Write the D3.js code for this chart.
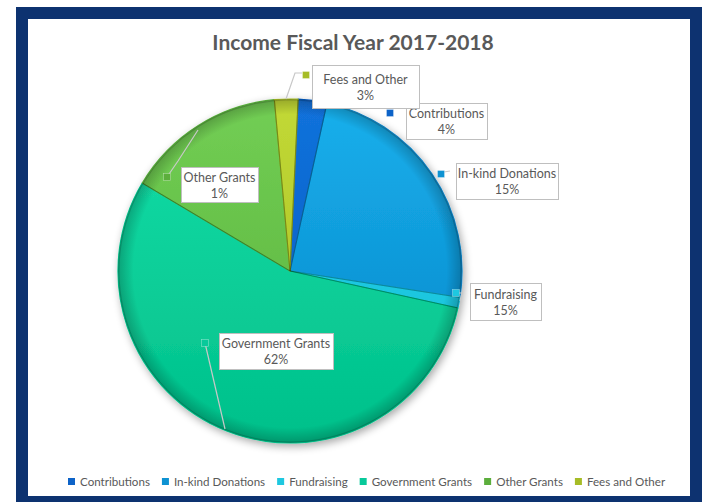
<!DOCTYPE html>
<html>
<head>
<meta charset="utf-8">
<script src="https://cdn.jsdelivr.net/npm/d3@7/dist/d3.min.js"></script>
<style>
  html, body { margin: 0; padding: 0; background: #ffffff; }
  svg { display: block; }
</style>
</head>
<body>
<svg id="chart" width="702" height="502"></svg>
<script>
// ---- data ----
const categories = ["Contributions", "In-kind Donations", "Fundraising", "Government Grants", "Other Grants", "Fees and Other"];
const sliceValues = [2.7, 24.0, 1.0, 55.1, 15.0, 2.2];
const labelPercents = ["4%", "15%", "15%", "62%", "1%", "3%"];
const title = "Income Fiscal Year 2017-2018";

// ---- styles / layout ----
const colorsTop = ["#1272dc", "#16b0ec", "#28d4ec", "#18dea8", "#72ce54", "#c2d936"];
const colorsBot = ["#0658bc", "#0982c6", "#12bcd6", "#00c08a", "#58b03c", "#a4ba20"];
const markerColors = ["#0d63c8", "#0e92d2", "#1ec8e0", "#08c99a", "#5cae3c", "#a6bc26"];
const W = 702, H = 502;
const cx = 290, cy = 271, R = 172;
const startDeg = 2.7;

// label boxes [x0, y0, x1, y1], marker [x,y], leader polyline
const labelBoxes = [
  [406, 103, 487, 139],
  [456, 163, 558, 199],
  [470, 283, 541, 320],
  [219, 333, 333, 369],
  [181, 167, 258, 202],
  [312, 65, 419, 108]
];
const markerPos = [[390, 113], [441, 174], [456, 293], [205, 343], [167, 177], [306, 75]];
const leaders = [
  null,
  [[444, 172], [450, 171]],
  [[459, 293], [462, 293], [460, 301]],
  [[205, 343], [225, 429]],
  [[167, 177], [178, 161], [198, 130]],
  [[302, 73], [295, 73], [286, 99]]
];

const svg = d3.select("#chart");
const defs = svg.append("defs");
const FONT = "Lato, 'Open Sans', sans-serif";

// gradients
categories.forEach((c, i) => {
  const g = defs.append("linearGradient")
    .attr("id", "g" + i)
    .attr("gradientUnits", "userSpaceOnUse")
    .attr("x1", 0).attr("y1", -R).attr("x2", 0).attr("y2", R);
  g.append("stop").attr("offset", "0%").attr("stop-color", colorsTop[i]);
  g.append("stop").attr("offset", "100%").attr("stop-color", colorsBot[i]);
});
// edge darkening overlay
const rg = defs.append("radialGradient").attr("id", "edge")
  .attr("gradientUnits", "userSpaceOnUse")
  .attr("cx", 0).attr("cy", 0).attr("r", R);
rg.append("stop").attr("offset", "0%").attr("stop-color", "#000").attr("stop-opacity", 0);
rg.append("stop").attr("offset", "91%").attr("stop-color", "#000").attr("stop-opacity", 0);
rg.append("stop").attr("offset", "100%").attr("stop-color", "#000").attr("stop-opacity", 0.22);

const shadow = defs.append("filter").attr("id", "shadow")
  .attr("x", "-20%").attr("y", "-20%").attr("width", "140%").attr("height", "140%");
shadow.append("feGaussianBlur").attr("in", "SourceAlpha").attr("stdDeviation", 4).attr("result", "b");
shadow.append("feOffset").attr("in", "b").attr("dx", 2).attr("dy", 3).attr("result", "o");
shadow.append("feComponentTransfer").attr("in", "o").attr("result", "s")
  .append("feFuncA").attr("type", "linear").attr("slope", 0.35);
const fm = shadow.append("feMerge");
fm.append("feMergeNode").attr("in", "s");
fm.append("feMergeNode").attr("in", "SourceGraphic");

// background + frame
svg.append("rect").attr("x", 0).attr("y", 0).attr("width", W).attr("height", H).attr("fill", "#ffffff");
svg.append("rect").attr("x", 16).attr("y", 7).attr("width", W - 16).attr("height", H - 7).attr("fill", "#0d3270");
svg.append("rect").attr("x", 28).attr("y", 19).attr("width", 662).attr("height", 477).attr("fill", "#ffffff");

// title
svg.append("text")
  .attr("x", 353).attr("y", 50)
  .attr("text-anchor", "middle")
  .attr("font-family", FONT)
  .attr("font-weight", "bold")
  .attr("font-size", 21)
  .attr("fill", "#595959")
  .text(title);

// pie
const pie = d3.pie().sort(null).value(d => d)
  .startAngle(startDeg * Math.PI / 180)
  .endAngle(startDeg * Math.PI / 180 + 2 * Math.PI);
const arcs = pie(sliceValues);
const arc = d3.arc().innerRadius(0).outerRadius(R);

const pg = svg.append("g").attr("transform", `translate(${cx},${cy})`);
pg.append("g").attr("filter", "url(#shadow)")
  .selectAll("path").data(arcs).enter().append("path")
  .attr("d", arc)
  .attr("fill", (d, i) => `url(#g${i})`)
  .attr("stroke", (d, i) => colorsBot[i])
  .attr("stroke-width", 1.2)
  .attr("stroke-linejoin", "round");

// edge overlay
pg.append("circle").attr("r", R).attr("fill", "url(#edge)");
// subtle bevel lines between slices
pg.append("g").selectAll("path").data(arcs).enter().append("path")
  .attr("d", d3.arc().innerRadius(0).outerRadius(R - 1))
  .attr("fill", "none")
  .attr("stroke", "#000")
  .attr("stroke-opacity", 0.15)
  .attr("stroke-width", 1);

// leader lines
const line = d3.line();
svg.append("g").selectAll("path").data(leaders.filter(d => d)).enter().append("path")
  .attr("d", d => line(d))
  .attr("fill", "none")
  .attr("stroke", "#c8c8c8")
  .attr("stroke-width", 1.2);

// markers
svg.append("g").selectAll("rect").data(markerPos).enter().append("rect")
  .attr("x", d => d[0] - 3.5).attr("y", d => d[1] - 3.5)
  .attr("width", 7).attr("height", 7)
  .attr("fill", (d, i) => markerColors[i])
  .attr("stroke", "#ffffff").attr("stroke-opacity", 0.5).attr("stroke-width", 0.6);

// label boxes
const lab = svg.append("g").selectAll("g").data(categories).enter().append("g");
lab.append("rect")
  .attr("x", (d, i) => labelBoxes[i][0] + 0.5)
  .attr("y", (d, i) => labelBoxes[i][1] + 0.5)
  .attr("width", (d, i) => labelBoxes[i][2] - labelBoxes[i][0])
  .attr("height", (d, i) => labelBoxes[i][3] - labelBoxes[i][1])
  .attr("fill", "#ffffff")
  .attr("stroke", "#bfbfbf")
  .attr("stroke-width", 1);
lab.append("text")
  .attr("x", (d, i) => (labelBoxes[i][0] + labelBoxes[i][2]) / 2)
  .attr("y", (d, i) => (labelBoxes[i][1] + labelBoxes[i][3]) / 2 - 3)
  .attr("text-anchor", "middle")
  .attr("font-family", FONT)
  .attr("font-size", 12.5)
  .attr("fill", "#595959")
  .text(d => d);
lab.append("text")
  .attr("x", (d, i) => (labelBoxes[i][0] + labelBoxes[i][2]) / 2)
  .attr("y", (d, i) => (labelBoxes[i][1] + labelBoxes[i][3]) / 2 + 13)
  .attr("text-anchor", "middle")
  .attr("font-family", FONT)
  .attr("font-size", 12.5)
  .attr("fill", "#595959")
  .text((d, i) => labelPercents[i]);

// legend
const legend = svg.append("g").attr("transform", "translate(0,482)");
let lx = 68;
categories.forEach((c, i) => {
  const g = legend.append("g").attr("transform", `translate(${lx},0)`);
  g.append("rect").attr("x", 0).attr("y", -4).attr("width", 7).attr("height", 7)
    .attr("fill", markerColors[i]);
  const t = g.append("text").attr("x", 12).attr("y", 4)
    .attr("font-family", FONT)
    .attr("font-size", 11.6)
    .attr("fill", "#595959")
    .text(c);
  const w = t.node().getComputedTextLength();
  lx += 12 + w + 12;
});
</script>
</body>
</html>
